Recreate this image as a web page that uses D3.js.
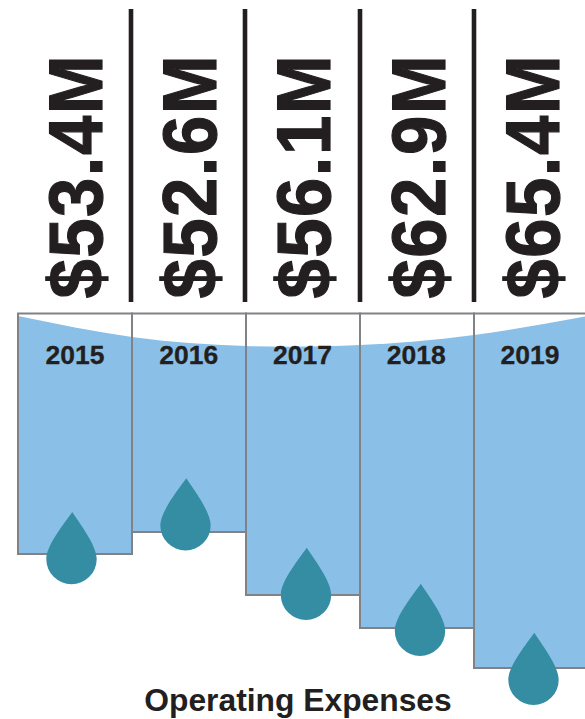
<!DOCTYPE html>
<html>
<head>
<meta charset="utf-8">
<script src="https://cdn.jsdelivr.net/npm/d3@7"></script>
<style>
html,body{margin:0;padding:0;background:#fff;overflow:hidden}
svg{display:block}
text{font-family:"Liberation Sans",Arial,sans-serif;font-weight:700;fill:#231f20}
</style>
</head>
<body>
<svg id="c" width="585" height="719"></svg>
<script>
const years = ["2015","2016","2017","2018","2019"];
const expenses = [53.4,52.6,56.1,62.9,65.4];
const title = "Operating Expenses";
// The graphic is not linear: the sorted values map to these picture levels.
const sortedExpenses = [52.6,53.4,56.1,62.9,65.4];
const barLevels = [532,554,595,628,668];
const dropLevels = [550.5,584.2,620,656,705];
const dropShifts = [-3.5,-3.5,3,3,2.5];
const waterLine = [316,337,346,345,335,316];

const svg = d3.select("#c");
const C = {water:"#8ac0e8",edge:"#808285",drop:"#358da3",ink:"#231f20"};
const x = d3.scaleBand().domain(years).range([18,588]);
const y = d3.scaleLinear().domain(sortedExpenses).range(barLevels);
const yDrop = d3.scaleLinear().domain(sortedExpenses).range(dropLevels);
const rimY = 313.5, step = x.step();

// water body
svg.selectAll("rect.w").data(years).join("rect").attr("class","w")
  .attr("x",d=>x(d)).attr("y",rimY).attr("width",step)
  .attr("height",(d,i)=>y(expenses[i])-rimY).attr("fill",C.water);

// empty part above the water line
const edgeX = d3.range(waterLine.length).map(i=>18+i*step);
const area = d3.area().x((d,i)=>edgeX[i]).y0(rimY).y1(d=>d).curve(d3.curveNatural);
svg.append("path").datum(waterLine).attr("d",area).attr("fill","#fff");

// outlines
svg.selectAll("rect.o").data(years).join("rect").attr("class","o")
  .attr("x",d=>x(d)).attr("y",rimY).attr("width",step)
  .attr("height",(d,i)=>y(expenses[i])-rimY)
  .attr("fill","none").attr("stroke",C.edge).attr("stroke-width",2);

// dividers above the bars
svg.selectAll("line.d").data(years.slice(1)).join("line").attr("class","d")
  .attr("x1",(d,i)=>x(d)-(i<2?1:0)).attr("x2",(d,i)=>x(d)-(i<2?1:0)).attr("y1",9).attr("y2",302)
  .attr("stroke",C.ink).attr("stroke-width",4.6);

// rotated values
svg.selectAll("text.v").data(expenses).join("text").attr("class","v")
  .attr("transform",(d,i)=>`translate(${x(years[i])+83.7+(i>2?1:0)},298.5) rotate(-90) scale(0.93,1)`)
  .attr("font-size",76).attr("letter-spacing",1.6)
  .attr("stroke",C.ink).attr("stroke-width",1.2)
  .text(d=>`$${d.toFixed(1)}M`);

// years
svg.selectAll("text.y").data(years).join("text").attr("class","y")
  .attr("x",(d,i)=>x(d)+57-i*0.25).attr("y",364).attr("text-anchor","middle")
  .attr("font-size",26.5).attr("stroke",C.ink).attr("stroke-width",0.3).text(d=>d);

// drops
const r = 25.2;
const drop = d3.path();
drop.moveTo(0.8,-r-21.8);
drop.bezierCurveTo(7,-r-12,r,-14,r,0);
drop.arc(0,0,r,0,Math.PI);
drop.bezierCurveTo(-r,-14,-6,-r-12,0.8,-r-21.8);
drop.closePath();
svg.selectAll("path.drop").data(years).join("path").attr("class","drop")
  .attr("d",drop.toString()).attr("fill",C.drop)
  .attr("transform",(d,i)=>`translate(${x(d)+step/2+dropShifts[i]},${yDrop(expenses[i])-r})`);

svg.append("text").attr("x",298).attr("y",711).attr("text-anchor","middle")
  .attr("font-size",31.8).text(title);
</script>
</body>
</html>
